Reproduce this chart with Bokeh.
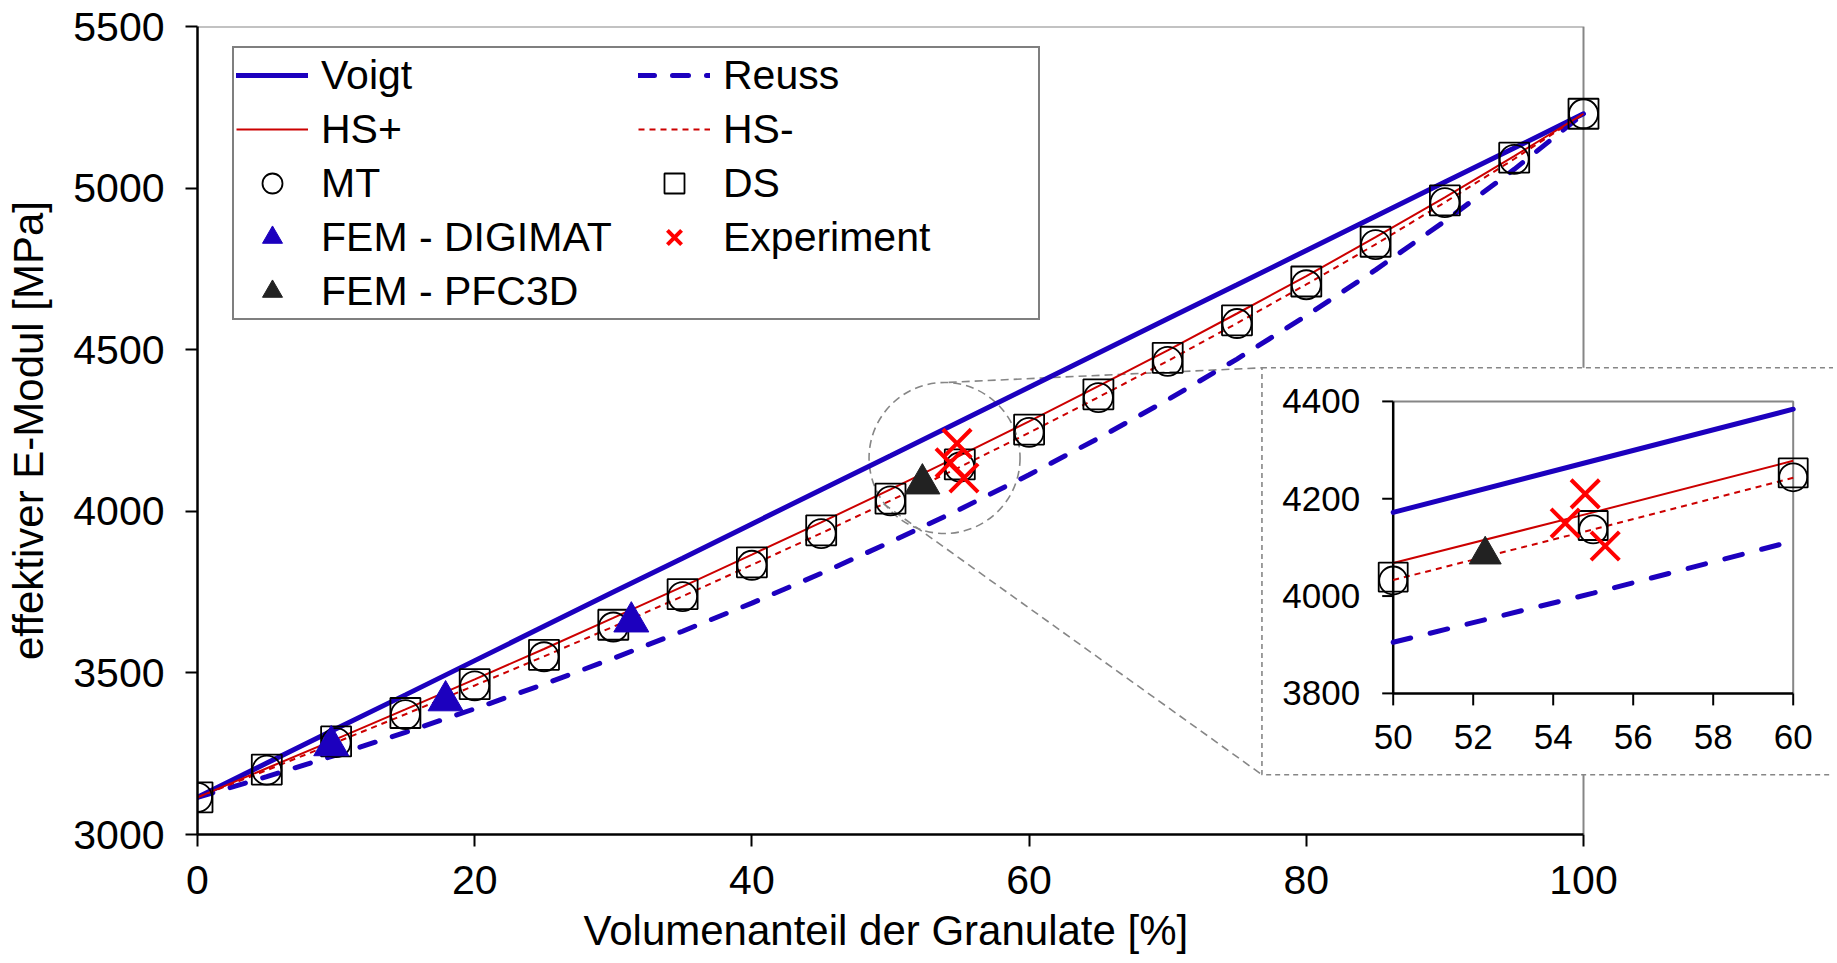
import math
from bokeh.plotting import figure
from bokeh.models import Range1d, FixedTicker, Legend, LegendItem, CoordinateMapping, Title
from bokeh.core.properties import value
from bokeh.embed import file_html
from bokeh.resources import INLINE

# ---------------- data ----------------
vol = [0, 5, 10, 15, 20, 25, 30, 35, 40, 45, 50, 55, 60, 65, 70, 75, 80, 85, 90, 95, 100]
voigt = [3115, 3221, 3327, 3432, 3538, 3644, 3750, 3855, 3961, 4067, 4172, 4278, 4384, 4490, 4596, 4701, 4807, 4913, 5019, 5124, 5230]
reuss = [3115, 3179, 3246, 3316, 3389, 3465, 3545, 3629, 3716, 3808, 3905, 4006, 4113, 4226, 4345, 4471, 4605, 4747, 4898, 5058, 5230]
hs_plus = [3115, 3205, 3295, 3387, 3480, 3574, 3670, 3767, 3866, 3966, 4068, 4172, 4278, 4387, 4498, 4612, 4728, 4848, 4971, 5099, 5230]
hs_minus = [3115, 3199, 3285, 3372, 3461, 3551, 3643, 3737, 3834, 3932, 4033, 4137, 4243, 4353, 4465, 4582, 4702, 4826, 4956, 5090, 5230]
mt = [3115, 3199, 3284, 3371, 3460, 3550, 3642, 3736, 3833, 3931, 4032, 4137, 4244, 4352, 4464, 4581, 4701, 4825, 4955, 5089, 5230]
ds = [3115, 3201, 3288, 3376, 3465, 3556, 3649, 3744, 3842, 3941, 4039, 4145, 4253, 4362, 4475, 4591, 4711, 4834, 4962, 5094, 5230]

digimat_x = [9.65, 17.9, 31.3]
digimat_y = [3275, 3414, 3658]
pfc3d_x = [52.3]
pfc3d_y = [4085]
exp_x = [54.3, 54.8, 55.3]
exp_y = [4150, 4210, 4103]

x_ticks = [0, 20, 40, 60, 80, 100]
y_ticks = [3000, 3500, 4000, 4500, 5000, 5500]
inset_x_ticks = [50, 52, 54, 56, 58, 60]
inset_y_ticks = [3800, 4000, 4200, 4400]

x_label = "Volumenanteil der Granulate [%]"
y_label = "effektiver E-Modul [MPa]"

# ---------------- layout / style ----------------
FONT = "Liberation Sans"
BLUE = "#1C00BE"
RED = "#CC0000"
XRED = "#FF0000"
GRAY = "#868686"
FRAME_W = 1636
X_VIEW_MAX = FRAME_W / 13.86

# zoom circle and connectors (main data coords)
ZOOM_CX, ZOOM_CY, ZOOM_SIZE = 53.9, 4165, 151
CONN_X0 = [54.2, 49.5]
CONN_Y0 = [4399, 4023]
BOX_L, BOX_B, BOX_T = 76.8, 3185, 4444
# inset target area (main data coords)
INSET_XT = (86.27, 115.13)
INSET_YT = (3436.6, 4340.0)

p = figure(frame_width=FRAME_W, frame_height=808,
           x_range=Range1d(0, X_VIEW_MAX), y_range=Range1d(y_ticks[0], y_ticks[-1]),
           output_backend="svg", toolbar_location=None,
           min_border_left=197, min_border_right=0, min_border_top=26, min_border_bottom=0)
p.outline_line_color = None
p.xgrid.visible = False
p.ygrid.visible = False

p.xaxis.ticker = FixedTicker(ticks=x_ticks)
p.yaxis.ticker = FixedTicker(ticks=y_ticks)
p.xaxis.bounds = (x_ticks[0], x_ticks[-1])
p.yaxis.axis_label = y_label
for ax in (p.xaxis[0], p.yaxis[0]):
    ax.axis_line_color = "black"
    ax.axis_line_width = 2.5
    ax.major_tick_line_color = "black"
    ax.major_tick_line_width = 2
    ax.major_tick_out = 12
    ax.major_tick_in = 0
    ax.minor_tick_line_color = None
    ax.major_label_text_font = FONT
    ax.major_label_text_font_size = "41px"
    ax.major_label_text_color = "black"
    ax.axis_label_text_font = FONT
    ax.axis_label_text_font_size = "42px"
    ax.axis_label_text_font_style = "normal"
    ax.axis_label_text_color = "black"
p.xaxis.major_label_standoff = 19
p.yaxis.major_label_standoff = 21
p.yaxis.axis_label_standoff = 18

# x-axis title, placed under the bounded axis (0..100)
p.add_layout(Title(text=x_label, align="left", offset=386, standoff=17,
                   text_font=FONT, text_font_size="42px", text_font_style="normal",
                   text_color="black"), "below")

# gray plot-area border (top and right)
p.line([x_ticks[0], x_ticks[-1], x_ticks[-1]], [y_ticks[-1], y_ticks[-1], y_ticks[0]],
       line_color=GRAY, line_width=2)

# zoom circle + connectors
p.scatter([ZOOM_CX], [ZOOM_CY], marker="circle", size=ZOOM_SIZE, fill_color=None,
          line_color=GRAY, line_width=1.6, line_dash="8 5")
p.segment(x0=CONN_X0, y0=CONN_Y0, x1=[BOX_L, BOX_L], y1=[BOX_T, BOX_B],
          line_color=GRAY, line_width=1.6, line_dash="8 5")

# main series
r_voigt = p.line(vol, voigt, line_color=BLUE, line_width=5, line_cap="round")
r_reuss = p.line(vol, reuss, line_color=BLUE, line_width=5, line_dash="16 18", line_cap="round")
r_hsp = p.line(vol, hs_plus, line_color=RED, line_width=2)
r_hsm = p.line(vol, hs_minus, line_color=RED, line_width=2, line_dash="6 5")
r_mt = p.scatter(vol, mt, marker="circle", size=29, fill_color=None, line_color="black", line_width=1.8)
r_ds = p.scatter(vol, ds, marker="square", size=30, fill_color=None, line_color="black", line_width=1.8)
r_dig = p.scatter(digimat_x, digimat_y, marker="triangle", size=35, fill_color=BLUE, line_color=BLUE)
r_pfc = p.scatter(pfc3d_x, pfc3d_y, marker="triangle", size=35, fill_color="#222222", line_color="#222222")
r_exp = p.scatter(exp_x, exp_y, marker="x", size=40, line_color=XRED, line_width=4)

# inset box (white, dashed)
p.quad(left=[BOX_L], right=[X_VIEW_MAX + 10], bottom=[BOX_B], top=[BOX_T],
       fill_color="white", line_color=GRAY, line_width=1.6, line_dash="5 4")

# ---------------- inset (sub-coordinates) ----------------
cm = CoordinateMapping(x_source=Range1d(inset_x_ticks[0], inset_x_ticks[-1]),
                       y_source=Range1d(inset_y_ticks[0], inset_y_ticks[-1]),
                       x_target=Range1d(*INSET_XT), y_target=Range1d(*INSET_YT))

def sub(r):
    r.coordinates = cm
    return r

sel = [i for i, v in enumerate(vol) if inset_x_ticks[0] <= v <= inset_x_ticks[-1]]
ix = [vol[i] for i in sel]
x0, x1 = inset_x_ticks[0], inset_x_ticks[-1]
y0, y1 = inset_y_ticks[0], inset_y_ticks[-1]

sub(p.line([x0, x1, x1], [y1, y1, y0], line_color=GRAY, line_width=2))
sub(p.line([x0, x0, x1], [y1, y0, y0], line_color="black", line_width=2.5))
sub(p.ray(x=inset_x_ticks, y=[y0] * len(inset_x_ticks), length=12, length_units="screen",
          angle=-math.pi / 2, line_color="black", line_width=2))
sub(p.ray(x=[x0] * len(inset_y_ticks), y=inset_y_ticks, length=11, length_units="screen",
          angle=math.pi, line_color="black", line_width=2))
sub(p.text(x=inset_x_ticks, y=[y0] * len(inset_x_ticks), text=[str(t) for t in inset_x_ticks],
           y_offset=44, text_align="center", text_baseline="middle",
           text_font=value(FONT), text_font_size="35px", text_color="black"))
sub(p.text(x=[x0] * len(inset_y_ticks), y=inset_y_ticks, text=[str(t) for t in inset_y_ticks],
           x_offset=-33, text_align="right", text_baseline="middle",
           text_font=value(FONT), text_font_size="35px", text_color="black"))

sub(p.line(ix, [voigt[i] for i in sel], line_color=BLUE, line_width=5, line_cap="round"))
sub(p.line(ix, [reuss[i] for i in sel], line_color=BLUE, line_width=5, line_dash="18 20", line_cap="round"))
sub(p.line(ix, [hs_plus[i] for i in sel], line_color=RED, line_width=2))
sub(p.line(ix, [hs_minus[i] for i in sel], line_color=RED, line_width=2, line_dash="6 5"))
sub(p.scatter(ix, [mt[i] for i in sel], marker="circle", size=28, fill_color=None, line_color="black", line_width=1.8))
sub(p.scatter(ix, [ds[i] for i in sel], marker="square", size=29, fill_color=None, line_color="black", line_width=1.8))
sub(p.scatter(pfc3d_x, pfc3d_y, marker="triangle", size=32, fill_color="#222222", line_color="#222222"))
sub(p.scatter(exp_x, exp_y, marker="x", size=40, line_color=XRED, line_width=4))

# ---------------- legend ----------------
legend = Legend(items=[
    LegendItem(label="Voigt", renderers=[r_voigt]),
    LegendItem(label="Reuss", renderers=[r_reuss]),
    LegendItem(label="HS+", renderers=[r_hsp]),
    LegendItem(label="HS-", renderers=[r_hsm]),
    LegendItem(label="MT", renderers=[r_mt]),
    LegendItem(label="DS", renderers=[r_ds]),
    LegendItem(label="FEM - DIGIMAT", renderers=[r_dig]),
    LegendItem(label="Experiment", renderers=[r_exp]),
    LegendItem(label="FEM - PFC3D", renderers=[r_pfc]),
], orientation="horizontal", ncols=2, location=(35, 514),
    border_line_color="black", border_line_width=2, background_fill_color="white",
    background_fill_alpha=1, padding=2, spacing=4, glyph_width=72, glyph_height=50,
    label_standoff=13, label_width=313, label_text_font=FONT, label_text_font_size="41px",
    label_text_color="black", margin=0)
p.add_layout(legend)

open("out.html", "w").write(file_html(p, INLINE))
